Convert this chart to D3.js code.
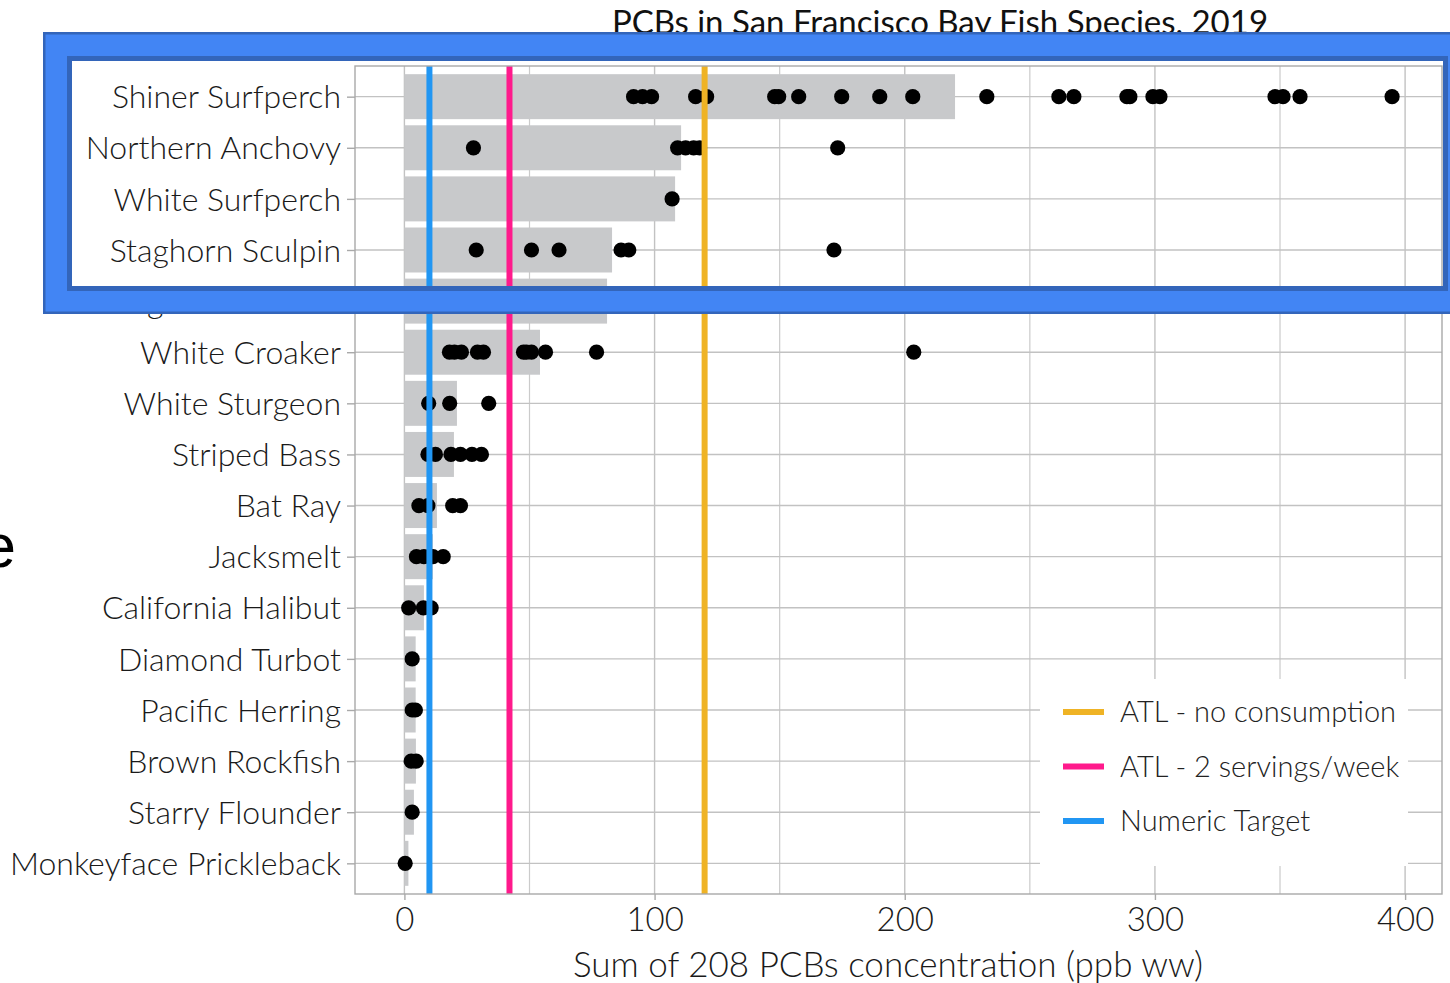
<!DOCTYPE html>
<html><head><meta charset="utf-8">
<script src="https://cdn.jsdelivr.net/npm/d3@7/dist/d3.min.js"></script>
<style>
html,body{margin:0;padding:0;background:#fff;}
svg{display:block;}
</style></head>
<body>
<svg id="chart" width="1450" height="983"></svg>
<script>
// ---------- data ----------
const title = "PCBs in San Francisco Bay Fish Species, 2019";
const xTitle = "Sum of 208 PCBs concentration (ppb ww)";
const species = ["Shiner Surfperch","Northern Anchovy","White Surfperch","Staghorn Sculpin","Largemouth Bass",
  "White Croaker","White Sturgeon","Striped Bass","Bat Ray","Jacksmelt","California Halibut","Diamond Turbot",
  "Pacific Herring","Brown Rockfish","Starry Flounder","Monkeyface Prickleback"];
const barMeans = [220.1, 110.6, 108.2, 83.0, 81.0, 54.2, 21.0, 19.8, 13.0, 11.4, 7.8, 4.5, 4.5, 4.6, 3.8, 1.6];

const shinerSurfperch = [91.6, 95.2, 98.8, 116.4, 120.8, 148, 149.6, 157.6, 174.8, 190, 203.2, 232.8, 261.6, 267.6, 288.8, 290, 299.2, 302, 348, 351.2, 358, 394.8];
const northernAnchovy = [27.6, 109.2, 112.4, 115.6, 118, 173.2];
const whiteSurfperch = [107];
const staghornSculpin = [28.7, 50.8, 61.8, 86.6, 89.7, 171.7];
const hiddenRow = [];
const whiteCroaker = [18, 20, 22.8, 29.2, 31.6, 47.6, 48.8, 50.8, 56.4, 76.8, 203.6];
const whiteSturgeon = [9.7, 18.1, 33.7];
const stripedBass = [9.4, 12.4, 18.6, 22.4, 27, 30.8];
const batRay = [5.8, 9.4, 19.3, 22.4];
const jacksmelt = [4.8, 7.8, 11.4, 15.5];
const californiaHalibut = [1.7, 7.6, 10.7];
const diamondTurbot = [3.1];
const pacificHerring = [3.1, 4.4];
const brownRockfish = [2.7, 4.7];
const starryFlounder = [3.1];
const monkeyfacePrickleback = [0.3];
const samples = [shinerSurfperch, northernAnchovy, whiteSurfperch, staghornSculpin, hiddenRow, whiteCroaker,
  whiteSturgeon, stripedBass, batRay, jacksmelt, californiaHalibut, diamondTurbot, pacificHerring,
  brownRockfish, starryFlounder, monkeyfacePrickleback];

const refNames = ["ATL - no consumption", "ATL - 2 servings/week", "Numeric Target"];
const refValues = [120, 42, 10];
const refColors = ["#efb325", "#ff1a8c", "#2196f3"];
const xTicks = [0, 100, 200, 300, 400];

// ---------- layout ----------
const svg = d3.select("#chart");
const P = {left:355, right:1442, top:66, bottom:894};
const x = d3.scaleLinear().domain([-19.75, 414.75]).range([P.left, P.right]);
const y = d3.scalePoint().domain(species).range([P.top, P.bottom]).padding(0.6);
const step = y.step();
const FONT = "Lato, 'Open Sans', sans-serif";

// title (partly hidden under highlight box)
svg.append("text").attr("x", 940).attr("y", 34).attr("text-anchor","middle")
  .attr("font-family", FONT).attr("font-size", 33).attr("fill","#111").text(title);

// stray slide letter at left edge
svg.append("text").attr("x", 16).attr("y", 567).attr("text-anchor","end")
  .attr("font-family","'Liberation Sans', Arial, sans-serif").attr("font-size", 62).attr("fill","#000").text("e");

// gridlines
const g = svg.append("g");
const minor = d3.range(50, 420, 100);
g.selectAll("line.vmin").data(minor).join("line")
  .attr("x1", d=>x(d)).attr("x2", d=>x(d)).attr("y1", P.top).attr("y2", P.bottom)
  .attr("stroke","#cbcbcb").attr("stroke-width",1.2);
g.selectAll("line.vmaj").data(xTicks).join("line")
  .attr("x1", d=>x(d)).attr("x2", d=>x(d)).attr("y1", P.top).attr("y2", P.bottom)
  .attr("stroke","#c2c2c2").attr("stroke-width",1.4);
g.selectAll("line.h").data(species).join("line")
  .attr("x1", P.left).attr("x2", P.right).attr("y1", d=>y(d)).attr("y2", d=>y(d))
  .attr("stroke","#c2c2c2").attr("stroke-width",1.4);

// bars
const bh = step * 0.88;
svg.append("g").selectAll("rect").data(species).join("rect")
  .attr("x", x(0)).attr("y", d=>y(d)-bh/2)
  .attr("width", (d,i)=>x(barMeans[i]) - x(0)).attr("height", bh)
  .attr("fill","#c8c9cb");

// points
const pts = [];
species.forEach((s,i)=>samples[i].forEach(v=>pts.push({s, v})));
svg.append("g").selectAll("circle").data(pts).join("circle")
  .attr("cx", d=>x(d.v)).attr("cy", d=>y(d.s)).attr("r", 7.6).attr("fill","#000");

// reference lines
svg.append("g").selectAll("line").data(refValues).join("line")
  .attr("x1", d=>x(d)).attr("x2", d=>x(d)).attr("y1", P.top).attr("y2", P.bottom)
  .attr("stroke", (d,i)=>refColors[i]).attr("stroke-width", 6);

// panel border
svg.append("rect").attr("x",P.left).attr("y",P.top).attr("width",P.right-P.left).attr("height",P.bottom-P.top)
  .attr("fill","none").attr("stroke","#a9a9a9").attr("stroke-width",1.4);

// y axis
const yAxis = svg.append("g").attr("transform",`translate(${P.left},0)`)
  .call(d3.axisLeft(y).tickSize(8).tickPadding(6));
yAxis.select(".domain").remove();
yAxis.selectAll("line").attr("stroke","#a9a9a9").attr("stroke-width",1.4);
yAxis.selectAll("text").attr("font-family",FONT).attr("font-weight",300).attr("font-size",32)
  .attr("fill","#1a1a1a").attr("dy","0.35em");

// x axis
const xAxis = svg.append("g").attr("transform",`translate(0,${P.bottom})`)
  .call(d3.axisBottom(x).tickValues(xTicks).tickSize(6).tickPadding(6).tickFormat(d3.format("d")));
xAxis.select(".domain").remove();
xAxis.selectAll("line").attr("stroke","#a9a9a9").attr("stroke-width",1.4);
xAxis.selectAll("text").attr("font-family",FONT).attr("font-weight",300).attr("font-size",33)
  .attr("fill","#1a1a1a").attr("dy","0.75em");

svg.append("text").attr("x", 888).attr("y", 977).attr("text-anchor","middle")
  .attr("font-family",FONT).attr("font-weight",300).attr("font-size",35).attr("fill","#1a1a1a").text(xTitle);

// legend
const lg = svg.append("g");
lg.append("rect").attr("x",1040).attr("y",679).attr("width",368).attr("height",187).attr("fill","#fff");
refNames.forEach((n,i)=>{
  const ly = 712 + i*54.5;
  lg.append("line").attr("x1",1063).attr("x2",1104).attr("y1",ly).attr("y2",ly)
    .attr("stroke",refColors[i]).attr("stroke-width",6);
  lg.append("text").attr("x",1120).attr("y",ly).attr("dy","0.35em")
    .attr("font-family",FONT).attr("font-weight",300).attr("font-size",29).attr("fill","#222").text(n);
});

// highlight box overlay
const frame = (o, h) => `M${o[0]},${o[1]}H${o[2]}V${o[3]}H${o[0]}Z M${h[0]},${h[1]}H${h[2]}V${h[3]}H${h[0]}Z`;
svg.append("path").attr("d", frame([43,32,1500,314],[72,61,1443,286])).attr("fill","#3365ba").attr("fill-rule","evenodd");
svg.append("path").attr("d", frame([45.5,34.5,1500,311.5],[67,56,1448,291])).attr("fill","#4285f4").attr("fill-rule","evenodd");
</script>
</body></html>
